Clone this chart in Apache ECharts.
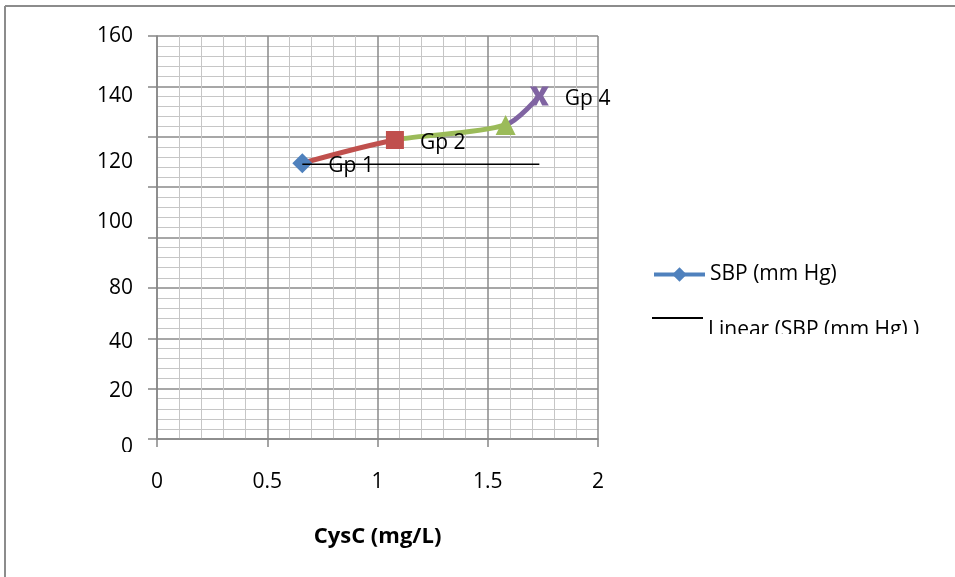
<!DOCTYPE html>
<html>
<head>
<meta charset="utf-8">
<script src="https://cdn.jsdelivr.net/npm/echarts@6/dist/echarts.min.js"></script>
<style>
    html, body {margin: 0; padding: 0; background: #fff;}
    #chart {width: 955px; height: 577px;}
</style>
</head>
<body>
<div id="chart"></div>
<script>
// group points (CysC, SBP)
const groupNames = ['Gp 1', 'Gp 2', '', 'Gp 4']
const cysC = [0.659, 1.079, 1.581, 1.734]
const sbp = [109.5, 118.7, 124.7, 136.2]
const markers = ['diamond', 'rect', 'triangle', 'path://M0,0 L3.5,0 L5,3 L6.5,0 L10,0 L7,5 L10,10 L6.5,10 L5,7 L3.5,10 L0,10 L3,5 Z']
const markerColors = ['#4F81BD', '#C0504D', '#9BBB59', '#8064A2']
const markerSizes = [20, 18, 20, 19]

// trend line as it appears on the picture
const trendX = [0.659, 1.734]
const trendY = [109.1, 109.1]

// y tick labels where they sit on the picture
const yLabelValues = [0, 19, 38.5, 60, 86, 110, 136, 160]
const yLabelTexts = ['0', '20', '40', '80', '100', '120', '140', '160']

const FONT = '"Open Sans", sans-serif'

const getOption = () => {
    const pts = cysC.map((x, i) => ({
        value: [x, sbp[i]],
        symbol: markers[i],
        symbolSize: markerSizes[i],
        itemStyle: {color: markerColors[i]},
        label: {show: groupNames[i] !== '', formatter: groupNames[i]}
    }))
    return {
        backgroundColor: '#fff',
        animation: false,
        textStyle: {fontFamily: FONT},
        grid: {left: 157, right: 357, top: 36, bottom: 138},
        xAxis: {
            type: 'value',
            min: 0,
            max: 2,
            interval: 0.5,
            name: 'CysC (mg/L)',
            nameLocation: 'middle',
            nameGap: 87,
            nameTextStyle: {fontFamily: FONT, fontSize: 22, fontWeight: 'bold', color: '#000'},
            axisLine: {lineStyle: {color: '#868686', width: 1.5}},
            axisTick: {show: true, length: 8, lineStyle: {color: '#868686', width: 1.5}},
            axisLabel: {fontFamily: FONT, fontSize: 21, color: '#000', margin: 33},
            splitLine: {show: true, lineStyle: {color: '#8a8a8a', width: 1.5}},
            minorTick: {show: false, splitNumber: 5},
            minorSplitLine: {show: true, lineStyle: {color: '#c6c6c6', width: 1}}
        },
        yAxis: {
            type: 'value',
            min: 0,
            max: 160,
            interval: 20,
            axisLine: {show: true, lineStyle: {color: '#868686', width: 1.5}},
            axisTick: {show: true, length: 9, lineStyle: {color: '#868686', width: 1.5}},
            axisLabel: {
                fontFamily: FONT,
                fontSize: 21,
                color: '#000',
                margin: 24,
                customValues: yLabelValues,
                formatter: (v) => {
                    const i = yLabelValues.indexOf(v)
                    const t = i >= 0 ? yLabelTexts[i] : ''
                    return v === 0 ? '{z|' + t + '}' : t
                },
                rich: {z: {fontFamily: FONT, fontSize: 21, color: '#000', padding: [16, 0, 0, 0]}}
            },
            splitLine: {show: true, lineStyle: {color: '#8a8a8a', width: 1.5}},
            minorTick: {show: false, splitNumber: 5},
            minorSplitLine: {show: true, lineStyle: {color: '#c6c6c6', width: 1}}
        },
        visualMap: {
            show: false,
            type: 'piecewise',
            seriesIndex: 0,
            dimension: 0,
            pieces: [
                {gte: 0, lt: cysC[1], color: markerColors[1]},
                {gte: cysC[1], lt: cysC[2], color: markerColors[2]},
                {gte: cysC[2], lte: 2, color: markerColors[3]}
            ],
            outOfRange: {color: markerColors[1]}
        },
        legend: [
            {
                left: 647,
                top: 259,
                itemWidth: 51,
                itemHeight: 18,
                data: ['SBP (mm Hg)'],
                lineStyle: {width: 4},
                textStyle: {fontFamily: FONT, fontSize: 21, color: '#000'}
            },
            {
                left: 647,
                top: 312,
                itemWidth: 51,
                itemHeight: 2,
                data: [{name: 'Linear (SBP (mm Hg) )', icon: 'rect'}],
                formatter: (name) => '{a|' + name + '}',
                textStyle: {
                    fontFamily: FONT,
                    fontSize: 21,
                    color: '#000',
                    rich: {a: {fontFamily: FONT, fontSize: 21, color: '#000', padding: [24, 0, 0, 0]}}
                }
            }
        ],
        graphic: [
            {type: 'rect', z: 100, shape: {x: 700, y: 334, width: 255, height: 30}, style: {fill: '#fff'}},
            {type: 'rect', z: 100, shape: {x: 60, y: 452, width: 80, height: 20}, style: {fill: '#fff'}},
            {type: 'line', z: 100, shape: {x1: 5, y1: 6, x2: 955, y2: 6}, style: {stroke: '#8c8c8c', lineWidth: 2}},
            {type: 'line', z: 100, shape: {x1: 5, y1: 6, x2: 5, y2: 577}, style: {stroke: '#8c8c8c', lineWidth: 2}}
        ],
        series: [
            {
                name: 'SBP (mm Hg)',
                type: 'line',
                smooth: 0.3,
                symbol: 'diamond',
                symbolSize: 14,
                itemStyle: {color: '#4F81BD'},
                lineStyle: {width: 5},
                label: {
                    position: 'right',
                    distance: 16,
                    offset: [0, 3],
                    fontFamily: FONT,
                    fontSize: 21,
                    color: '#000'
                },
                data: pts,
                z: 3
            },
            {
                name: 'Linear (SBP (mm Hg) )',
                type: 'line',
                symbol: 'none',
                itemStyle: {color: '#000'},
                lineStyle: {color: '#000', width: 1.5},
                data: trendX.map((x, i) => [x, trendY[i]]),
                z: 4
            }
        ]
    }
}

const chartRef = echarts.init(document.getElementById('chart'))
chartRef.setOption(getOption())
</script>
</body>
</html>
